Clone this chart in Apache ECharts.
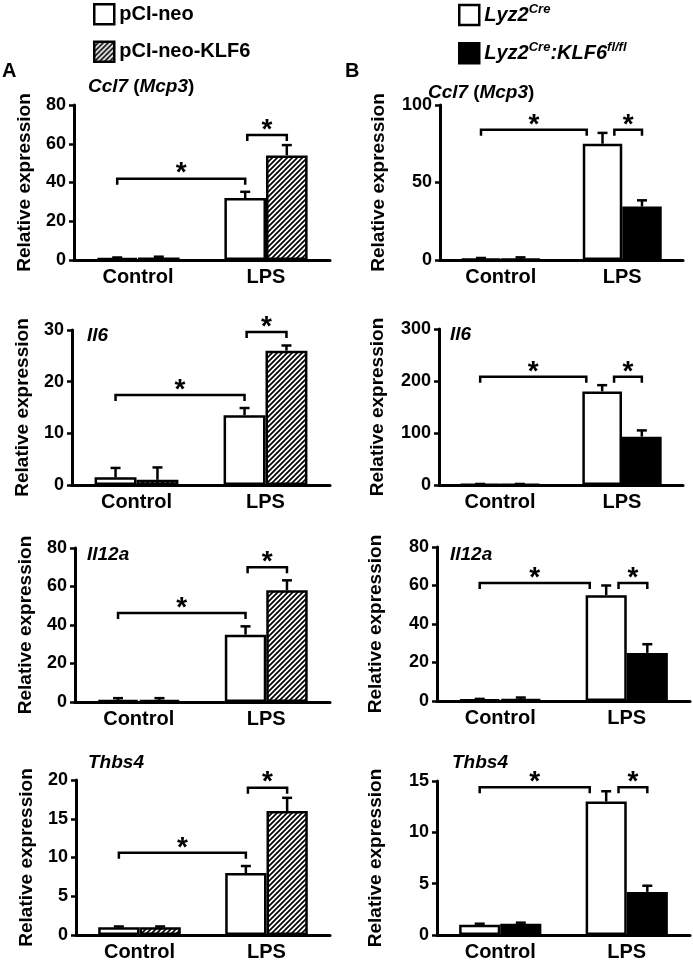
<!DOCTYPE html>
<html>
<head>
<meta charset="utf-8">
<script src="https://cdn.jsdelivr.net/npm/echarts@6/dist/echarts.min.js"></script>
<style>
  html, body { margin: 0; padding: 0; background: #fff; }
  #chart { width: 693px; height: 963px; }
</style>
</head>
<body>
<div id="chart"></div>
<script>
// 数据：每行一个基因（Ccl7, Il6, Il12a, Thbs4），每列 Control / LPS
const categories = ['Control', 'LPS'];
const genes = ['Ccl7', 'Il6', 'Il12a', 'Thbs4'];

// A 组：pCI-neo vs pCI-neo-KLF6
const aNeo = [[1.0, 32], [1.5, 13.5], [1.0, 35], [1.0, 8.0]];
const aNeoErr = [[0.3, 3.2], [1.8, 1.4], [1.0, 4.3], [0.1, 0.9]];
const aKlf6 = [[1.3, 54], [1.0, 26], [1.0, 58], [1.0, 16]];
const aKlf6Err = [[0.4, 5.3], [2.4, 1.0], [1.0, 5.2], [0.1, 1.7]];
const aYMax = [80, 30, 80, 20];
const aYStep = [20, 10, 20, 5];
const aBrackets = [[42, 64.5], [17.4, 29.6], [46.2, 70], [10.6, 19]];

// B 组：Lyz2Cre vs Lyz2Cre:KLF6fl/fl
const bCre = [[0.5, 75], [1.0, 180], [0.8, 55], [1.0, 13]];
const bCreErr = [[0.8, 7], [1, 12], [0.3, 5], [0.1, 1.0]];
const bKo = [[0.5, 34.5], [1.0, 93], [1.0, 25], [1.1, 4.2]];
const bKoErr = [[1.2, 4], [1, 12], [0.8, 4.5], [0.1, 0.6]];
const bYMax = [100, 300, 80, 15];
const bYStep = [50, 100, 20, 5];
const bBrackets = [[84, 84], [208, 208], [61.3, 61.3], [14.4, 14.4]];

const FONT = 'Liberation Sans, Arial, sans-serif';
const GAP = 0.35;

// 斜线填充
const hatch = document.createElement('canvas');
hatch.width = hatch.height = 5;
(function () {
    const ctx = hatch.getContext('2d');
    ctx.fillStyle = '#fff';
    ctx.fillRect(0, 0, 5, 5);
    ctx.strokeStyle = '#000';
    ctx.lineWidth = 1.7;
    ctx.beginPath();
    ctx.moveTo(-1, 6); ctx.lineTo(6, -1);
    ctx.moveTo(-1, 1); ctx.lineTo(1, -1);
    ctx.moveTo(4, 6); ctx.lineTo(6, 4);
    ctx.stroke();
})();

// 网格位置
const gridsA = [
    { left: 74, top: 105, width: 256, height: 155 },
    { left: 72, top: 330, width: 258, height: 155 },
    { left: 75, top: 548, width: 255, height: 154 },
    { left: 76, top: 780, width: 254, height: 155 }
];
const gridsB = [
    { left: 440, top: 105, width: 243, height: 155 },
    { left: 439, top: 329, width: 244, height: 156 },
    { left: 437, top: 547, width: 253, height: 154 },
    { left: 437, top: 781, width: 253, height: 154 }
];
const titlePosA = [[88, 77], [87, 326], [87, 545], [88, 753]];
const titlePosB = [[428, 83], [450, 325], [450, 545], [452, 753]];

const rich = {
    i: { fontStyle: 'italic', fontWeight: 'bold', fontSize: 19, fontFamily: FONT, color: '#000' },
    n: { fontStyle: 'normal', fontWeight: 'bold', fontSize: 19, fontFamily: FONT, color: '#000' }
};
function geneTitle(g) {
    return g === 'Ccl7' ? '{i|Ccl7} {n|(}{i|Mcp3}{n|)}' : '{i|' + g + '}';
}

const grid = [], xAxis = [], yAxis = [], series = [], title = [];

function errRender(params, api) {
    const band = api.size([1, 0])[0];
    const bw = band * (1 - GAP) / 2;
    const ci = api.value(0), s = api.value(3);
    const x = api.coord([ci, 0])[0] + (s === 0 ? -bw / 2 : bw / 2);
    const y0 = api.coord([ci, api.value(1)])[1];
    const y1 = api.coord([ci, api.value(1) + api.value(2)])[1];
    const st = { stroke: '#000', lineWidth: 2.5 };
    return {
        type: 'group',
        children: [
            { type: 'line', shape: { x1: x, y1: y0, x2: x, y2: y1 }, style: st },
            { type: 'line', shape: { x1: x - 5, y1: y1, x2: x + 5, y2: y1 }, style: st }
        ]
    };
}

function makeBracketRender(shift1, shift2) {
    return function (params, api) {
        const band = api.size([1, 0])[0];
        const bw = band * (1 - GAP) / 2;
        const c0 = api.coord([0, 0])[0], c1 = api.coord([1, 0])[0];
        const yA = api.coord([0, api.value(1)])[1];
        const yB = api.coord([0, api.value(2)])[1];
        const xa1 = c0 - bw / 2, xa2 = c1 - bw / 2 + shift1 * bw;
        const xb1 = c1 - bw / 2 + shift2 * bw, xb2 = c1 + bw / 2;
        const st = { stroke: '#000', lineWidth: 2.5, fill: null };
        const star = { fill: '#000', font: 'bold 28px ' + FONT, align: 'center', verticalAlign: 'middle', text: '*' };
        return {
            type: 'group',
            children: [
                { type: 'polyline', shape: { points: [[xa1, yA + 6], [xa1, yA], [xa2, yA], [xa2, yA + 6]] }, style: st },
                { type: 'polyline', shape: { points: [[xb1, yB + 6], [xb1, yB], [xb2, yB], [xb2, yB + 6]] }, style: st },
                { type: 'text', x: (xa1 + xa2) / 2, y: yA - 5, style: Object.assign({}, star) },
                { type: 'text', x: (xb1 + xb2) / 2, y: yB - 5, style: Object.assign({}, star) }
            ]
        };
    };
}

function addPanel(gIdx, box, yMax, yStep, nameGap, s0, s1, v0, e0, v1, e1, br, tpos, gene, shifts) {
    grid.push(box);
    xAxis.push({
        type: 'category', gridIndex: gIdx, data: categories,
        axisLine: { lineStyle: { color: '#000', width: 3 } },
        axisTick: { show: false },
        axisLabel: { color: '#000', fontSize: 20, fontWeight: 'bold', fontFamily: FONT, margin: 7 }
    });
    yAxis.push({
        type: 'value', gridIndex: gIdx, min: 0, max: yMax, interval: yStep,
        name: 'Relative expression', nameLocation: 'middle', nameGap: nameGap,
        nameTextStyle: { color: '#000', fontSize: 19, fontWeight: 'bold', fontFamily: FONT },
        axisLine: { show: true, lineStyle: { color: '#000', width: 3 } },
        axisTick: { show: true, length: 5, lineStyle: { color: '#000', width: 2.5 } },
        splitLine: { show: false },
        axisLabel: { color: '#000', fontSize: 18, fontWeight: 'bold', fontFamily: FONT, margin: 8 }
    });
    const barBase = {
        type: 'bar', xAxisIndex: gIdx, yAxisIndex: gIdx,
        barGap: '0%', barCategoryGap: (GAP * 100) + '%', z: 2
    };
    series.push(Object.assign({}, barBase, {
        name: s0.name, data: v0,
        itemStyle: { color: s0.color, borderColor: '#000', borderWidth: 2.5 }
    }));
    series.push(Object.assign({}, barBase, {
        name: s1.name, data: v1,
        itemStyle: { color: s1.color, borderColor: '#000', borderWidth: 2.5 }
    }));
    const errData = [];
    for (let i = 0; i < categories.length; i++) {
        errData.push([i, v0[i], e0[i], 0]);
        errData.push([i, v1[i], e1[i], 1]);
    }
    series.push({
        type: 'custom', xAxisIndex: gIdx, yAxisIndex: gIdx, z: 3,
        data: errData, encode: { x: 0, y: 1 }, renderItem: errRender, silent: true
    });
    series.push({
        type: 'custom', xAxisIndex: gIdx, yAxisIndex: gIdx, z: 3,
        data: [[0, br[0], br[1]]], encode: { x: 0, y: 1 },
        renderItem: makeBracketRender(shifts[0], shifts[1]), silent: true
    });
    title.push({
        text: geneTitle(gene), left: tpos[0], top: tpos[1], padding: 0,
        textStyle: { rich: rich }
    });
}

const sNeo = { name: 'pCI-neo', color: '#fff' };
const sKlf6 = { name: 'pCI-neo-KLF6', color: { image: hatch, repeat: 'repeat' } };
const sCre = { name: 'Lyz2Cre', color: '#fff' };
const sKo = { name: 'Lyz2Cre:KLF6fl/fl', color: '#000' };

for (let r = 0; r < 4; r++) {
    addPanel(r, gridsA[r], aYMax[r], aYStep[r], 40, sNeo, sKlf6,
        aNeo[r], aNeoErr[r], aKlf6[r], aKlf6Err[r], aBrackets[r], titlePosA[r], genes[r], [0, 0.05]);
}
for (let r = 0; r < 4; r++) {
    addPanel(4 + r, gridsB[r], bYMax[r], bYStep[r], 52, sCre, sKo,
        bCre[r], bCreErr[r], bKo[r], bKoErr[r], bBrackets[r], titlePosB[r], genes[r], [-0.4, 0.3]);
}

const legendText = { color: '#000', fontSize: 20, fontWeight: 'bold', fontFamily: FONT };
const legendRich = {
    i: { fontStyle: 'italic', fontWeight: 'bold', fontSize: 20, fontFamily: FONT, color: '#000', lineHeight: 24 },
    s: { fontStyle: 'italic', fontWeight: 'bold', fontSize: 13, fontFamily: FONT, color: '#000', verticalAlign: 'top', lineHeight: 13 }
};

const option = {
    animation: false,
    backgroundColor: '#fff',
    title: title,
    grid: grid,
    xAxis: xAxis,
    yAxis: yAxis,
    legend: [
        {
            data: ['pCI-neo', 'pCI-neo-KLF6'], orient: 'vertical', left: 93, top: 3,
            itemWidth: 20, itemHeight: 20, itemGap: 15, selectedMode: false, padding: 0,
            icon: 'rect', itemStyle: { borderColor: '#000', borderWidth: 2.5 },
            textStyle: legendText
        },
        {
            data: ['Lyz2Cre', 'Lyz2Cre:KLF6fl/fl'], orient: 'vertical', left: 458, top: 3,
            itemWidth: 20, itemHeight: 20, itemGap: 15, selectedMode: false, padding: 0,
            icon: 'rect', itemStyle: { borderColor: '#000', borderWidth: 2.5 },
            textStyle: Object.assign({ rich: legendRich }, legendText),
            formatter: function (name) {
                return name === 'Lyz2Cre' ? '{i|Lyz2}{s|Cre}' : '{i|Lyz2}{s|Cre}{i|:KLF6}{s|fl/fl}';
            }
        }
    ],
    graphic: [
        { type: 'text', left: 2, top: 61, style: { text: 'A', font: 'bold 20px ' + FONT, fill: '#000' } },
        { type: 'text', left: 345, top: 61, style: { text: 'B', font: 'bold 20px ' + FONT, fill: '#000' } }
    ],
    series: series
};

const chart = echarts.init(document.getElementById('chart'), null, { renderer: 'canvas' });
chart.setOption(option);
</script>
</body>
</html>
